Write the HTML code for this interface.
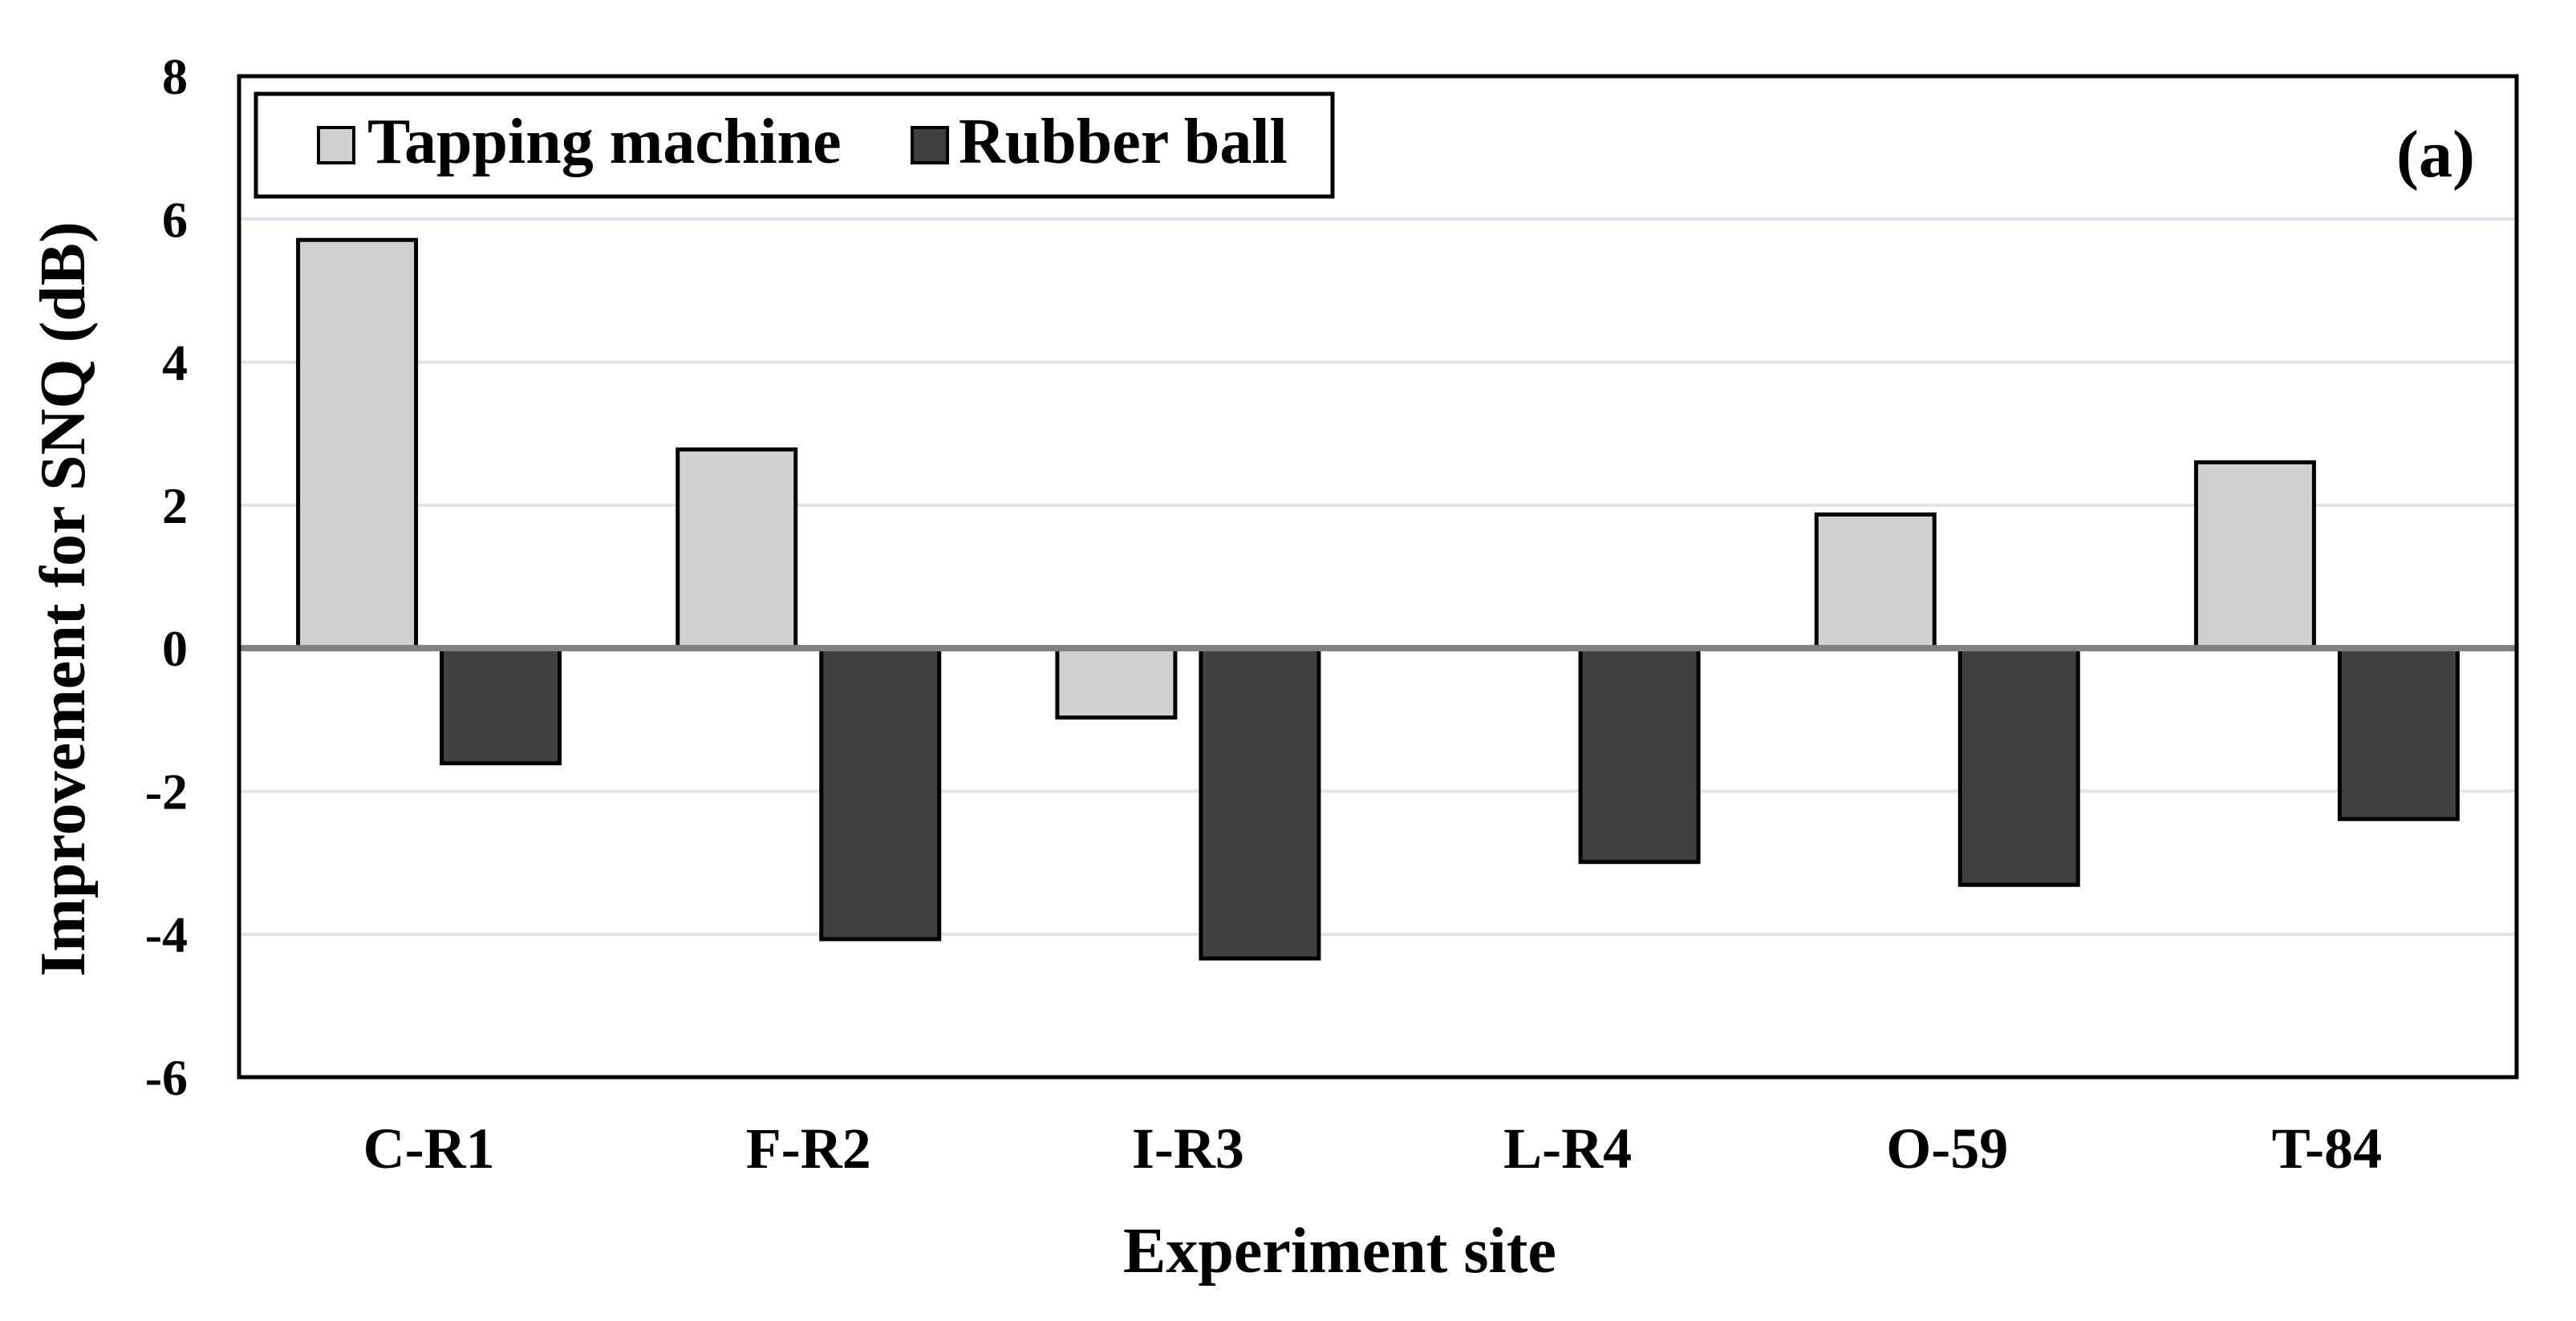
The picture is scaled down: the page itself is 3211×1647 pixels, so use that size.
<!DOCTYPE html>
<html><head><meta charset="utf-8"><style>
html,body{margin:0;padding:0;background:#fff;}
svg{display:block;font-family:"Liberation Serif",serif;font-weight:bold;}
</style></head><body>
<svg id="chart" width="3211" height="1647" viewBox="0 0 3211 1647" xmlns="http://www.w3.org/2000/svg">
<rect x="0" y="0" width="3211" height="1647" fill="#fff"/>
<g id="grid"></g>
<g id="bars"></g>
<g id="yticks"></g>
<g id="xticks"></g>
<rect x="298" y="95" width="2839" height="1248" fill="none" stroke="#000" stroke-width="5"/>
<g>
<rect x="319" y="117" width="1342" height="128" fill="#fff" stroke="#000" stroke-width="5"/>
<rect x="397" y="159" width="44" height="44" fill="#d2d1cf" stroke="#000" stroke-width="4"/>
<text x="458" y="203" font-size="80">Tapping machine</text>
<rect x="1137" y="159" width="44" height="44" fill="#404040" stroke="#000" stroke-width="4"/>
<text x="1195" y="203" font-size="80">Rubber ball</text>
</g>
<text x="3085" y="220" font-size="84" text-anchor="end">(a)</text>
<text x="1670" y="1586" font-size="80" text-anchor="middle">Experiment site</text>
<text transform="translate(105,747) rotate(-90)" font-size="80" text-anchor="middle">Improvement for SNQ (dB)</text>
</svg>
<script>
const categories = ["C-R1","F-R2","I-R3","L-R4","O-59","T-84"];
const tappingValues = [5.71, 2.78, -0.97, 0, 1.87, 2.60];
const rubberValues = [-1.61, -4.07, -4.34, -2.99, -3.31, -2.39];
const yTicks = [8, 6, 4, 2, 0, -2, -4, -6];

const NS = "http://www.w3.org/2000/svg";
const plotL = 298, plotR = 3137, yMin = -6, yMax = 8, plotTop = 95, plotBot = 1343;
function yScale(v){ return plotBot - (v - yMin) / (yMax - yMin) * (plotBot - plotTop); }
const catW = (plotR - plotL) / categories.length;
function xCenter(i){ return plotL + catW * (i + 0.5); }
function mk(tag, attrs, parent){ const e = document.createElementNS(NS, tag); for (const k in attrs) e.setAttribute(k, attrs[k]); parent.appendChild(e); return e; }

const grid = document.getElementById("grid");
yTicks.forEach(t => {
  if (t === 0 || t === yMax || t === yMin) return;
  const l = mk("line", {x1: plotL, x2: plotR, y1: yScale(t), y2: yScale(t), stroke: "#dde3ea", "stroke-width": 4}, grid);
  
  
});

const bars = document.getElementById("bars");
const bw = 147, gap = 16;
categories.forEach((c, i) => {
  const cx = xCenter(i);
  [[tappingValues[i], cx - gap - bw, "#d2d1cf", "bar-tapping"], [rubberValues[i], cx + gap, "#404040", "bar-rubber"]].forEach(([v, x, fill, nm]) => {
    if (v === 0) return;
    const y0 = yScale(0), y1 = yScale(v);
    const r = mk("rect", {x: x, y: Math.min(y0, y1), width: bw, height: Math.abs(y1 - y0), fill: fill, stroke: "#000", "stroke-width": 5}, bars);
    
    
  });
});
const zl = mk("line", {x1: plotL, x2: plotR, y1: yScale(0), y2: yScale(0), stroke: "#808080", "stroke-width": 8}, bars);



const yt = document.getElementById("yticks");
yTicks.forEach(t => {
  const tx = mk("text", {x: 234, y: yScale(t) + 22, "font-size": 64, "text-anchor": "end"}, yt);
  tx.textContent = String(t);
  
  
});
const xt = document.getElementById("xticks");
categories.forEach((c, i) => {
  const tx = mk("text", {x: xCenter(i), y: 1456, "font-size": 72, "text-anchor": "middle"}, xt);
  tx.textContent = c;
  
  
});
</script>
</body></html>
